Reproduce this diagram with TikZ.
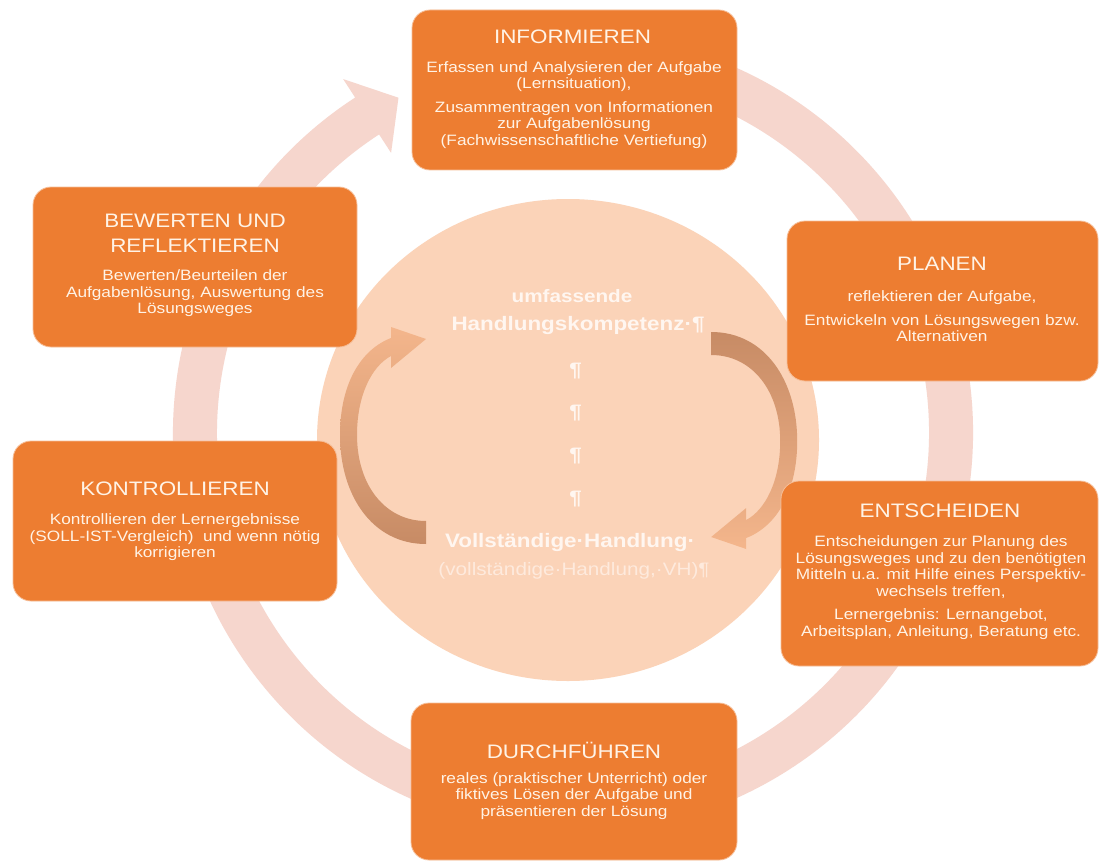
\documentclass[tikz,border=0pt]{standalone}
\usepackage{fontspec}
\usetikzlibrary{shapes.geometric}
\newfontfamily\lsans{Liberation Sans}[FakeStretch=1.15]
\definecolor{boxor}{HTML}{ED7D31}
\definecolor{boxtx}{HTML}{FFF3E6}
\definecolor{boxln}{HTML}{F6BE98}
\definecolor{ringc}{HTML}{F6D6CD}
\definecolor{circc}{HTML}{FBD3B8}
\definecolor{arrbr}{HTML}{C78B65}
\definecolor{arrlt}{HTML}{F4B68C}
\definecolor{ctxt}{HTML}{FFF6F0}
\definecolor{ctxtl}{HTML}{FEEADD}
\tikzset{
  box/.style={fill=boxor, draw=boxln, line width=0.8pt, rounded corners=18pt, inner sep=0pt},
  ttl/.style={text=boxtx, font=\lsans\fontsize{19.5}{25}\selectfont, align=center, inner sep=0pt},
  bdy/.style={text=boxtx, font=\lsans\fontsize{15}{16.5}\selectfont, align=center, inner sep=0pt},
  cbig/.style={text=ctxt, font=\lsans\bfseries\fontsize{19.5}{22}\selectfont, inner sep=0pt},
  csmall/.style={text=ctxt, font=\lsans\bfseries\fontsize{18}{22}\selectfont, inner sep=0pt},
  cnorm/.style={text=ctxtl, font=\lsans\fontsize{18}{22}\selectfont, inner sep=0pt},
}
\begin{document}
\begin{tikzpicture}[x=1pt,y=-1pt]
\useasboundingbox (0,0) rectangle (1099,861);
\fill[white] (0,0) rectangle (1099,861);
% outer cycle arrow
\coordinate (rc) at (573,433);
\fill[ringc] ([shift={(-80:400)}]rc) arc[start angle=-80,end angle=237,radius=400]
  -- ([shift={(237:422)}]rc) -- ([shift={(242.5:378)}]rc) -- ([shift={(237:334)}]rc)
  -- ([shift={(237:356)}]rc) arc[start angle=237,end angle=-80,radius=356] -- cycle;
% central circle
\node[fill=circc, ellipse, draw=none, minimum width=502pt, minimum height=482pt, inner sep=0pt] (circ) at (568,440) {};
% inner arrows
\shade[top color=arrlt, bottom color=arrbr]
  (426,544) .. controls (372,544) and (340,495) .. (340,435)
  .. controls (340,385) and (360,350) .. (391,338)
  -- (391,327) -- (426,339) -- (391,368) -- (391,356)
  .. controls (372,366) and (357,395) .. (357,435)
  .. controls (357,485) and (385,521) .. (426,521) -- cycle;
\shade[top color=arrbr, bottom color=arrlt]
  (711.2,332) .. controls (765.2,332) and (797.2,381) .. (797.2,441)
  .. controls (797.2,491) and (777.2,526) .. (746.2,538)
  -- (746.2,549) -- (711.2,537) -- (746.2,508) -- (746.2,520)
  .. controls (765.2,510) and (780.2,481) .. (780.2,441)
  .. controls (780.2,391) and (752.2,355) .. (711.2,355) -- cycle;
% centre texts
\node[csmall] (c1) at (572,296) {umfassende};
\node[cbig] (c2) at (578,325) {Handlungskompetenz·¶};
\node[cbig] (c3) at (575.5,371) {¶};
\node[cbig] (c4) at (575.5,413) {¶};
\node[cbig] (c5) at (575.5,456) {¶};
\node[cbig] (c6) at (575.5,499) {¶};
\node[cbig] (c7) at (570,542) {Vollständige·Handlung·};
\node[cnorm] (c8) at (574,571) {(vollständige·Handlung,·VH)¶};
% boxes
\node[box, minimum width=325pt, minimum height=160pt] (inf) at (574.5,90) {};
\node[box, minimum width=324pt, minimum height=160pt] (bew) at (195,267) {};
\node[box, minimum width=311pt, minimum height=160pt] (pla) at (942.5,301) {};
\node[box, minimum width=324pt, minimum height=160pt] (kon) at (175,521) {};
\node[box, minimum width=317pt, minimum height=185pt] (ent) at (939.5,573.5) {};
\node[box, minimum width=326pt, minimum height=157pt] (dur) at (574,781.5) {};
% box texts
\node[ttl] (inft) at (572.5,37) {INFORMIEREN};
\node[bdy] (infb) at (574,105) {Erfassen und Analysieren der Aufgabe\\(Lernsituation),\\[7pt]Zusammentragen von Informationen\\zur Aufgabenlösung\\(Fachwissenschaftliche Vertiefung)};
\node[ttl] (bewt) at (195,233.5) {BEWERTEN UND\\REFLEKTIEREN};
\node[bdy] (bewb) at (195,293.5) {Bewerten/Beurteilen der\\Aufgabenlösung, Auswertung des\\Lösungsweges};
\node[ttl] (plat) at (942,264) {PLANEN};
\node[bdy] (plab) at (942,316.5) {reflektieren der Aufgabe,\\[7pt]Entwickeln von Lösungswegen bzw.\\Alternativen};
\node[ttl] (kont) at (175,489) {KONTROLLIEREN};
\node[bdy] (konb) at (175,537.5) {Kontrollieren der Lernergebnisse\\(SOLL-IST-Vergleich)\ \ und wenn nötig\\korrigieren};
\node[ttl] (entt) at (940,511) {ENTSCHEIDEN};
\node[bdy] (entb) at (941,587.5) {Entscheidungen zur Planung des\\Lösungsweges und zu den benötigten\\Mitteln u.a. mit Hilfe eines Perspektiv-\\wechsels treffen,\\[7pt]Lernergebnis: Lernangebot,\\Arbeitsplan, Anleitung, Beratung etc.};
\node[ttl] (durt) at (574,750) {DURCHFÜHREN};
\node[bdy] (durb) at (574,796) {reales (praktischer Unterricht) oder\\fiktives Lösen der Aufgabe und\\präsentieren der Lösung};
\end{tikzpicture}
\end{document}
